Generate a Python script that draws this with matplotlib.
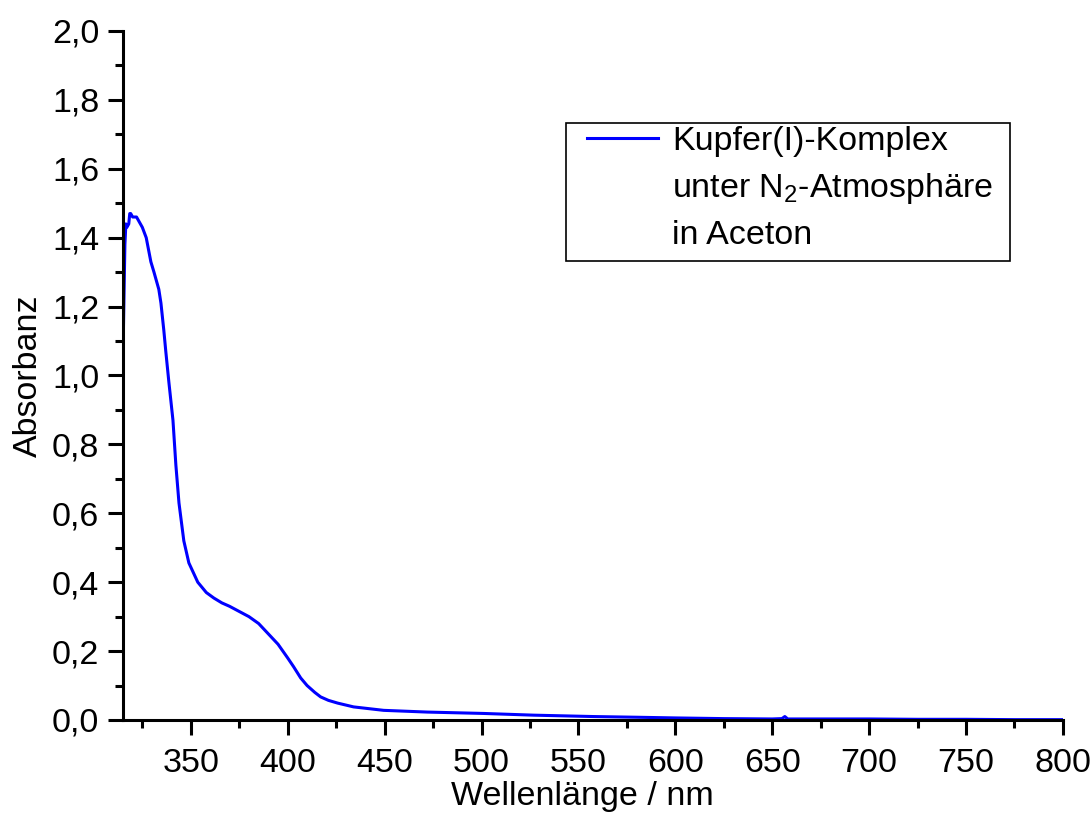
import matplotlib
matplotlib.use("Agg")
import matplotlib.pyplot as plt
from matplotlib.lines import Line2D
from matplotlib.patches import Rectangle
from matplotlib.ticker import MultipleLocator, FuncFormatter

plt.rcParams['font.family'] = ['Liberation Sans', 'DejaVu Sans']
plt.rcParams['mathtext.fontset'] = 'custom'
plt.rcParams['mathtext.rm'] = 'Liberation Sans'
plt.rcParams['mathtext.it'] = 'Liberation Sans'

# Wellenlaenge (nm) und Absorbanz
wavelength = [315.0, 315.5, 316.0, 316.5, 317.0, 318.0, 318.5, 319.0, 320.0, 321.0,
              322.0, 323.0, 324.0, 325.0, 327.0, 329.4, 331.0, 333.5, 334.6, 336.1,
              337.1, 338.7, 340.8, 342.3, 343.9, 346.4, 349.0, 353.6, 358.0, 361.9,
              366.0, 370.0, 375.0, 380.0, 385.0, 390.0, 395.0, 400.0, 403.0, 406.7,
              410.0, 414.0, 417.0, 421.0, 425.8, 434.0, 449.5, 472.0, 501.0, 527.0,
              557.8, 580.0, 600.0, 625.0, 650.0, 655.0, 656.5, 658.0, 675.0, 700.0,
              725.0, 750.0, 775.0, 800.0]
absorbance = [1.05, 1.22, 1.38, 1.44, 1.43, 1.44, 1.47, 1.47, 1.46, 1.46,
              1.46, 1.45, 1.44, 1.43, 1.40, 1.33, 1.30, 1.25, 1.21, 1.13,
              1.07, 0.98, 0.87, 0.74, 0.63, 0.52, 0.456, 0.40, 0.37, 0.354,
              0.34, 0.33, 0.315, 0.30, 0.28, 0.25, 0.22, 0.18, 0.155, 0.122,
              0.10, 0.08, 0.067, 0.057, 0.049, 0.038, 0.028, 0.023, 0.019, 0.014,
              0.010, 0.008, 0.006, 0.004, 0.003, 0.004, 0.010, 0.003, 0.003, 0.003,
              0.002, 0.002, 0.001, 0.001]

legend_lines = ["Kupfer(I)-Komplex", "unter N$_2$-Atmosphäre", "in Aceton"]

fig = plt.figure(figsize=(10.92, 8.13), dpi=100)
ax = fig.add_axes([0.1126, 0.1144, 0.8608, 0.8475])

line, = ax.plot(wavelength, absorbance, color='#0000ff', linewidth=2.2,
                solid_joinstyle='round')

ax.set_xlim(315, 800)
ax.set_ylim(0, 2.0)
ax.xaxis.set_major_locator(MultipleLocator(50))
ax.xaxis.set_minor_locator(MultipleLocator(25))
ax.yaxis.set_major_locator(MultipleLocator(0.2))
ax.yaxis.set_minor_locator(MultipleLocator(0.1))
ax.yaxis.set_major_formatter(FuncFormatter(lambda v, p: f"{v:.1f}".replace('.', ',')))

for side in ['top', 'right']:
    ax.spines[side].set_visible(False)
for side in ['left', 'bottom']:
    ax.spines[side].set_linewidth(2.2)

ax.tick_params(which='major', direction='out', length=11, width=2.2, labelsize=24.5)
ax.tick_params(axis='x', which='major', pad=9)
ax.tick_params(axis='y', which='major', pad=6)
ax.tick_params(which='minor', direction='out', length=6, width=2.2)

ax.set_xlabel("Wellenlänge / nm", fontsize=24.5)
ax.xaxis.set_label_coords(0.489, -0.089)
ax.set_ylabel("Absorbanz", fontsize=24.5, labelpad=6)

# Legende: Linie nur neben der ersten Zeile, Rahmen separat
blank = Line2D([], [], color='none')
leg = ax.legend([line, blank, blank], legend_lines, loc='upper left',
                bbox_to_anchor=(0.4936, 0.862), fontsize=24.5,
                frameon=False, handlelength=2.1, handletextpad=0.4,
                borderpad=0, labelspacing=0.41, borderaxespad=0)
ax.add_patch(Rectangle((0.4713, 0.6662), 0.4723, 0.2003, transform=ax.transAxes,
                       fill=False, edgecolor='black', linewidth=1.2, clip_on=False))

fig.savefig("out.png", dpi=100)
